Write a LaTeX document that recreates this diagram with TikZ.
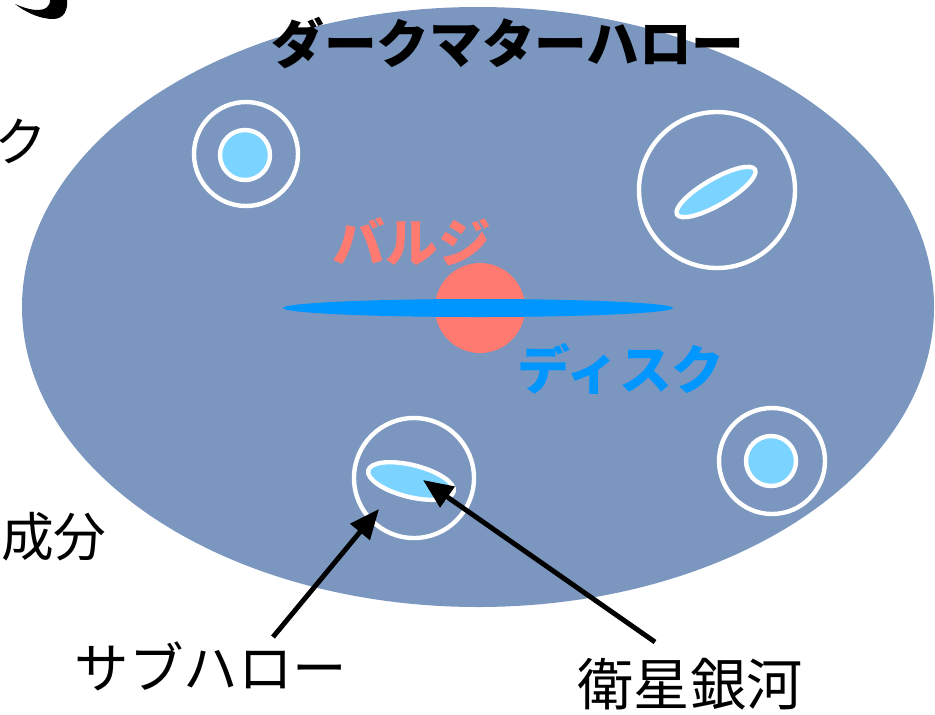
\documentclass[tikz,border=0pt]{standalone}
\usepackage{fontspec}
\setmainfont{Noto Sans CJK JP}
\usetikzlibrary{arrows.meta}

\definecolor{halo}{RGB}{123,151,192}
\definecolor{satblue}{RGB}{122,212,255}
\definecolor{bulge}{RGB}{255,122,112}
\definecolor{disk}{RGB}{0,150,255}

\begin{document}
\begin{tikzpicture}[x=0.02cm, y=-0.02cm,
    ring/.style={draw=white, line width=2.5pt},
    gal/.style={draw=white, fill=satblue, line width=2.5pt},
    ptr/.style={-{Triangle[length=17pt,width=14pt]}, line width=2.8pt},
    big/.style={font=\fontsize{30}{36}\selectfont, inner sep=0pt}]
    \useasboundingbox (0,0) rectangle (935,714);
    \clip (0,0) rectangle (935,714);

    % halo
    \fill[halo] (478,307) ellipse (456 and 300);
    \node[big, font=\fontsize{30}{36}\selectfont\bfseries] (title) at (508,43) {ダークマターハロー};

    % bits of text cut off on the left
    \fill (15,4) .. controls (28,14) and (42,19) .. (53,19) .. controls (64,19) and (68,10) .. (67,0)
        -- (50,0) .. controls (50,7) and (45,10) .. (38,10) .. controls (30,10) and (22,7) .. (15,4);
    \node[big, anchor=east] (leftku) at (48,141) {ク};
    \node[big, anchor=east] (leftseibun) at (107,537) {成分};

    % galaxy: bulge and disk
    \fill[bulge] (480,308) circle (45);
    \fill[disk] (478,308) ellipse (195 and 9);
    \node[big, font=\fontsize{30}{36}\selectfont\bfseries, text=bulge] (bulgelbl) at (412,242) {バルジ};
    \node[big, font=\fontsize{30}{36}\selectfont\bfseries, text=disk] (disklbl) at (621,369) {ディスク};

    % subhalos with satellites
    \draw[ring] (246,154) circle (52);
    \draw[gal] (245,155) circle (25);
    \draw[ring] (717,190) circle (78);
    \draw[gal, rotate around={30:(716,192)}] (716,192) ellipse (45 and 13);
    \draw[ring] (414,478) circle (60);
    \draw[gal, rotate around={-14:(411,481)}] (411,481) ellipse (44 and 16);
    \draw[ring] (772,461) circle (53);
    \draw[gal] (771,461) circle (25);

    % labels and pointers
    \node[big, font=\fontsize{31}{36}\selectfont] (subhalo) at (211,666) {サブハロー};
    \node[big, font=\fontsize{32}{36}\selectfont] (satellite) at (690,684) {衛星銀河};
    \coordinate (subfrom) at (273,637);
    \coordinate (subtip) at (379,509);
    \coordinate (satfrom) at (655,642);
    \coordinate (sattip) at (423,480);
    \draw[ptr] (subfrom) -- (subtip);
    \draw[ptr] (satfrom) -- (sattip);
\end{tikzpicture}
\end{document}
